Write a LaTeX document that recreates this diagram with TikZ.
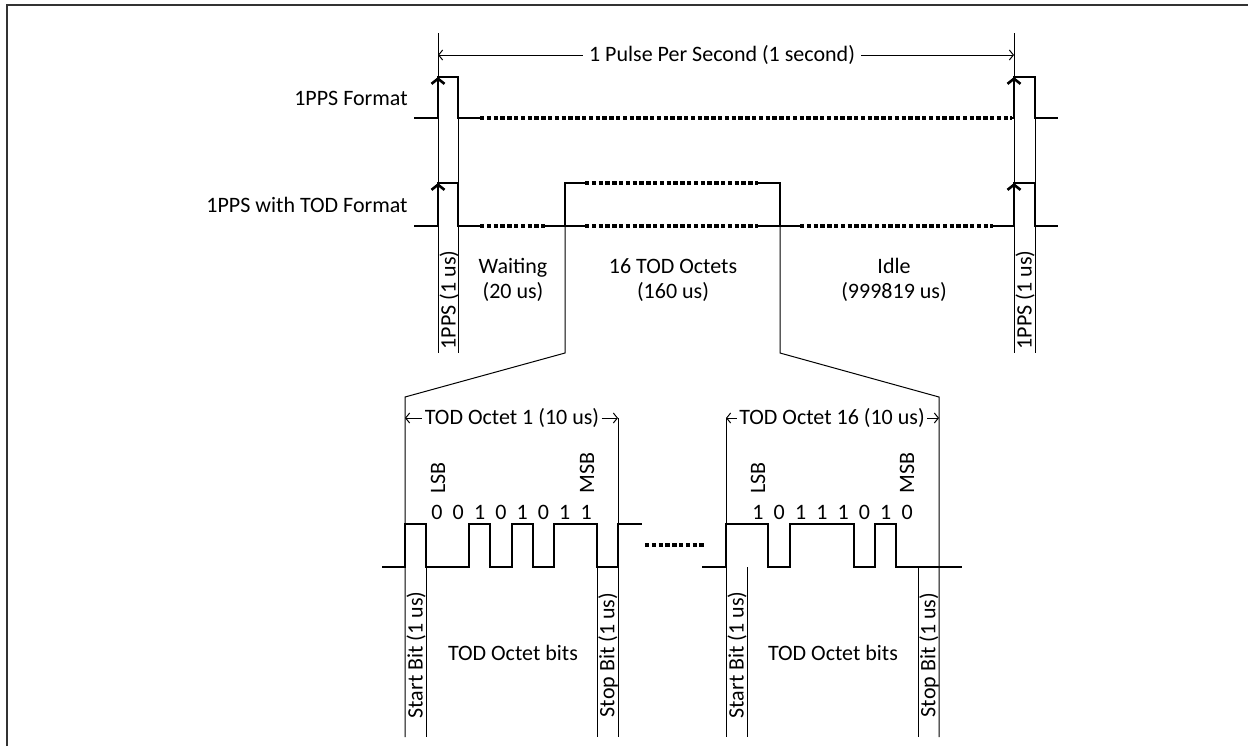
\documentclass[tikz,border=0pt]{standalone}
\usepackage{fontspec}
\setmainfont{Carlito}
\usepackage{tikz}
\usetikzlibrary{arrows.meta,positioning}

\begin{document}
\begin{tikzpicture}[x=0.5pt,y=-0.5pt,
  wave/.style={line width=1.3pt,line cap=rect,line join=miter},
  gap/.style={line width=1.7pt,dash pattern=on 2.2pt off 1.2pt},
  guide/.style={line width=0.5pt},
  rise/.style={wave,line cap=butt,-{Straight Barb[length=2.6pt,width=6.5pt]}},
  dimL/.style={guide,{Straight Barb[length=2pt,width=5pt]}-},
  dimR/.style={guide,-{Straight Barb[length=2pt,width=5pt]}},
  lbl/.style={font=\fontsize{11}{12.5}\selectfont,inner sep=1pt},
  vlbl/.style={lbl,rotate=90},
  tlbl/.style={lbl,align=center},
  frame/.style={line width=1pt,black!80}]
  \useasboundingbox (0,0) rectangle (1248,746);
  \draw[frame] (7,746) -- (7,5) -- (1248,5);

  % one second between two pulses
  \coordinate (ppsL) at (438,55);
  \coordinate (ppsR) at (1014,55);
  \node[lbl,inner sep=3pt] (pps) at (722,55) {1 Pulse Per Second (1 second)};
  \draw[dimL] (ppsL) -- (pps.west);
  \draw[dimR] (pps.east) -- (ppsR);

  \draw[guide] (438,33) -- (438,353);
  \draw[guide] (458,77) -- (458,353);
  \draw[guide] (1014,33) -- (1014,353);
  \draw[guide] (1035,77) -- (1035,353);
  \draw[guide] (565,226) -- (565,353) -- (405,397) -- (405,737);
  \draw[guide] (780,226) -- (780,353) -- (939,397) -- (939,737);

  \node[lbl,anchor=east] (fmt) at (410,98) {1PPS Format};
  \node[lbl,anchor=east] (todfmt) at (410,205) {1PPS with TOD Format};

  % plain 1PPS
  \draw[wave] (415,118) -- (438,118);
  \draw[rise] (438,118) -- (438,77);
  \draw[wave] (438,77) -- (458,77) -- (458,118) -- (480,118);
  \draw[gap] (480,118) -- (1012,118);
  \draw[wave] (1012,118) -- (1014,118);
  \draw[rise] (1014,118) -- (1014,77);
  \draw[wave] (1014,77) -- (1035,77) -- (1035,118) -- (1057,118);

  % 1PPS with TOD
  \draw[wave] (415,226) -- (438,226);
  \draw[rise] (438,226) -- (438,183);
  \draw[wave] (438,183) -- (458,183) -- (458,226) -- (480,226);
  \draw[gap] (480,226) -- (545,226);
  \draw[wave] (545,226) -- (585,226);
  \draw[wave] (565,226) -- (565,183) -- (585,183);
  \draw[gap] (585,183) -- (758,183);
  \draw[gap] (585,226) -- (758,226);
  \draw[wave] (758,183) -- (780,183) -- (780,226);
  \draw[wave] (758,226) -- (800,226);
  \draw[gap] (800,226) -- (993,226);
  \draw[wave] (993,226) -- (1014,226);
  \draw[rise] (1014,226) -- (1014,183);
  \draw[wave] (1014,183) -- (1035,183) -- (1035,226) -- (1057,226);

  \node[vlbl] (ppsA) at (449,300) {1PPS (1 us)};
  \node[vlbl] (ppsB) at (1025,300) {1PPS (1 us)};
  \node[tlbl] (wait) at (513,280) {Waiting\\(20 us)};
  \node[tlbl] (octs) at (673,280) {16 TOD Octets\\(160 us)};
  \node[tlbl] (idle) at (894,280) {Idle\\(999819 us)};

  % octet detail
  \coordinate (o1L) at (405,418);
  \coordinate (o1R) at (618,418);
  \coordinate (o16L) at (726,418);
  \coordinate (o16R) at (939,418);
  \node[lbl] (oct1) at (512,418) {TOD Octet 1 (10 us)};
  \node[lbl] (oct16) at (832,418) {TOD Octet 16 (10 us)};
  \draw[dimL] (o1L) -- (oct1.west);
  \draw[dimR] (oct1.east) -- (o1R);
  \draw[dimL] (o16L) -- (oct16.west);
  \draw[dimR] (oct16.east) -- (o16R);

  \draw[guide] (426,524) -- (426,737);
  \draw[guide] (597,524) -- (597,737);
  \draw[guide] (618,418) -- (618,737);
  \draw[guide] (726,418) -- (726,737);
  \draw[guide] (747,567) -- (747,737);
  \draw[guide] (918,567) -- (918,737);

  \draw[wave] (383,567) -- (405,567) -- (405,524) -- (426,524) -- (426,567)
    -- (469,567) -- (469,524) -- (490,524) -- (490,567) -- (512,567)
    -- (512,524) -- (533,524) -- (533,567) -- (554,567) -- (554,524)
    -- (597,524) -- (597,567) -- (618,567) -- (618,524) -- (641,524);
  \draw[gap] (645,545) -- (705,545);
  \draw[wave] (703,567) -- (726,567) -- (726,524) -- (768,524) -- (768,567)
    -- (790,567) -- (790,524) -- (854,524) -- (854,567) -- (875,567)
    -- (875,524) -- (896,524) -- (896,567) -- (961,567);

  \foreach \b [count=\i] in {0,0,1,0,1,0,1,1}
    \node[lbl] (oa\i) at (415.7+21.3*\i,512) {\b};
  \foreach \b [count=\i] in {1,0,1,1,1,0,1,0}
    \node[lbl] (ob\i) at (736.7+21.3*\i,512) {\b};

  \node[vlbl,anchor=west] (lsb1) at (438,496) {LSB};
  \node[vlbl,anchor=west] (msb1) at (587,496) {MSB};
  \node[vlbl,anchor=west] (lsb16) at (758,496) {LSB};
  \node[vlbl,anchor=west] (msb16) at (907,496) {MSB};

  \node[vlbl] (st1) at (416,655) {Start Bit (1 us)};
  \node[vlbl] (sp1) at (608,655) {Stop Bit (1 us)};
  \node[lbl] (bits1) at (513,653) {TOD Octet bits};
  \node[vlbl] (st16) at (737,655) {Start Bit (1 us)};
  \node[vlbl] (sp16) at (929,655) {Stop Bit (1 us)};
  \node[lbl] (bits16) at (833,653) {TOD Octet bits};
\end{tikzpicture}
\end{document}
